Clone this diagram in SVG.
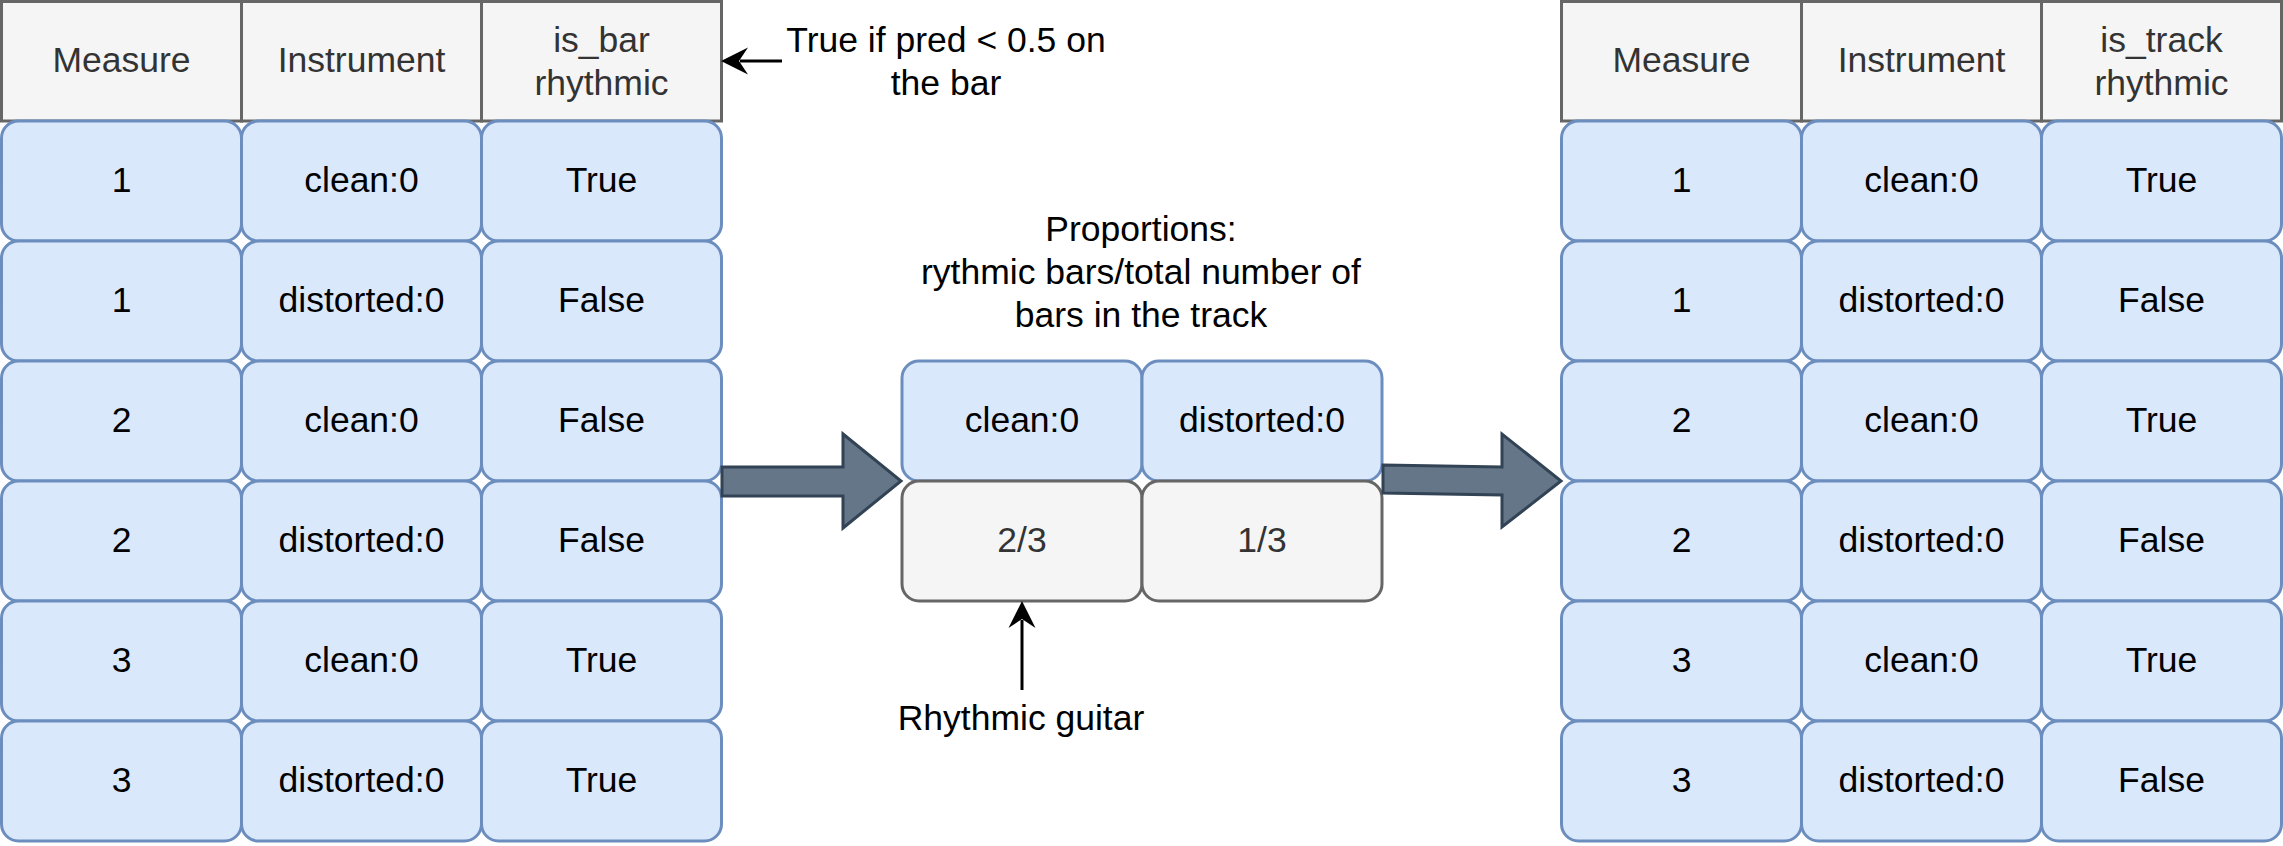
<svg xmlns="http://www.w3.org/2000/svg" width="2283" height="846" viewBox="0 0 2283 846">
<style>
text{font-family:"Liberation Sans",Arial,sans-serif;font-size:35.5px;text-anchor:middle}
.hd{fill:#f5f5f5;stroke:#666666;stroke-width:3}
.hdt{fill:#333333}
.cell{fill:#dae8fc;stroke:#6c8ebf;stroke-width:3}
.gcell{fill:#f5f5f5;stroke:#666666;stroke-width:3}
.t{fill:#000000}
.block{fill:#647687;stroke:#314354;stroke-width:3;stroke-linejoin:miter}
.ann{fill:none;stroke:#000000;stroke-width:3}
</style>
<defs>
<marker id="ah" markerUnits="userSpaceOnUse" viewBox="0 -15 28 30" markerWidth="28" markerHeight="30" refX="9" refY="0" orient="auto">
<path d="M27,-13.5 L0,0 L27,13.5 L18,0 Z" fill="#000000" transform="translate(28,0) scale(-1,1)"/>
</marker>
</defs>
<rect width="2283" height="846" fill="#ffffff"/>

<g id="left-table">
<g id="l-header">
<rect class="hd" x="1.5" y="1.5" width="240" height="119.5"/>
<rect class="hd" x="241.5" y="1.5" width="240" height="119.5"/>
<rect class="hd" x="481.5" y="1.5" width="240" height="119.5"/>
<text class="hdt" x="121.5" y="72">Measure</text>
<text class="hdt" x="361.5" y="72">Instrument</text>
<text class="hdt" x="601.5" y="52">is_bar</text>
<text class="hdt" x="601.5" y="95">rhythmic</text>
</g>
<g id="l-row1">
<rect class="cell" x="1.5" y="121" width="240" height="120" rx="17"/>
<rect class="cell" x="241.5" y="121" width="240" height="120" rx="17"/>
<rect class="cell" x="481.5" y="121" width="240" height="120" rx="17"/>
<text class="t" x="121.5" y="192">1</text><text class="t" x="361.5" y="192">clean:0</text><text class="t" x="601.5" y="192">True</text>
</g>
<g id="l-row2">
<rect class="cell" x="1.5" y="241" width="240" height="120" rx="17"/>
<rect class="cell" x="241.5" y="241" width="240" height="120" rx="17"/>
<rect class="cell" x="481.5" y="241" width="240" height="120" rx="17"/>
<text class="t" x="121.5" y="312">1</text><text class="t" x="361.5" y="312">distorted:0</text><text class="t" x="601.5" y="312">False</text>
</g>
<g id="l-row3">
<rect class="cell" x="1.5" y="361" width="240" height="120" rx="17"/>
<rect class="cell" x="241.5" y="361" width="240" height="120" rx="17"/>
<rect class="cell" x="481.5" y="361" width="240" height="120" rx="17"/>
<text class="t" x="121.5" y="432">2</text><text class="t" x="361.5" y="432">clean:0</text><text class="t" x="601.5" y="432">False</text>
</g>
<g id="l-row4">
<rect class="cell" x="1.5" y="481" width="240" height="120" rx="17"/>
<rect class="cell" x="241.5" y="481" width="240" height="120" rx="17"/>
<rect class="cell" x="481.5" y="481" width="240" height="120" rx="17"/>
<text class="t" x="121.5" y="552">2</text><text class="t" x="361.5" y="552">distorted:0</text><text class="t" x="601.5" y="552">False</text>
</g>
<g id="l-row5">
<rect class="cell" x="1.5" y="601" width="240" height="120" rx="17"/>
<rect class="cell" x="241.5" y="601" width="240" height="120" rx="17"/>
<rect class="cell" x="481.5" y="601" width="240" height="120" rx="17"/>
<text class="t" x="121.5" y="672">3</text><text class="t" x="361.5" y="672">clean:0</text><text class="t" x="601.5" y="672">True</text>
</g>
<g id="l-row6">
<rect class="cell" x="1.5" y="721" width="240" height="120" rx="17"/>
<rect class="cell" x="241.5" y="721" width="240" height="120" rx="17"/>
<rect class="cell" x="481.5" y="721" width="240" height="120" rx="17"/>
<text class="t" x="121.5" y="792">3</text><text class="t" x="361.5" y="792">distorted:0</text><text class="t" x="601.5" y="792">True</text>
</g>
</g>

<g id="note-pred">
<text class="t" x="946" y="52">True if pred &lt; 0.5 on</text>
<text class="t" x="946" y="95">the bar</text>
</g>

<g id="note-proportions">
<text class="t" x="1141" y="241">Proportions:</text>
<text class="t" x="1141" y="284">rythmic bars/total number of</text>
<text class="t" x="1141" y="327">bars in the track</text>
</g>

<g id="middle-table">
<g id="m-clean">
<rect class="cell" x="902" y="361" width="240" height="120" rx="17"/>
<text class="t" x="1022" y="432">clean:0</text>
</g>
<g id="m-distorted">
<rect class="cell" x="1142" y="361" width="240" height="120" rx="17"/>
<text class="t" x="1262" y="432">distorted:0</text>
</g>
<g id="m-clean-val">
<rect class="gcell" x="902" y="481" width="240" height="120" rx="17"/>
<text class="hdt" x="1022" y="552">2/3</text>
</g>
<g id="m-distorted-val">
<rect class="gcell" x="1142" y="481" width="240" height="120" rx="17"/>
<text class="hdt" x="1262" y="552">1/3</text>
</g>
</g>

<g id="note-rhythmic">
<text class="t" x="1021" y="730">Rhythmic guitar</text>
</g>

<g id="right-table">
<g id="r-header">
<rect class="hd" x="1561.5" y="1.5" width="240" height="119.5"/>
<rect class="hd" x="1801.5" y="1.5" width="240" height="119.5"/>
<rect class="hd" x="2041.5" y="1.5" width="240" height="119.5"/>
<text class="hdt" x="1681.5" y="72">Measure</text>
<text class="hdt" x="1921.5" y="72">Instrument</text>
<text class="hdt" x="2161.5" y="52">is_track</text>
<text class="hdt" x="2161.5" y="95">rhythmic</text>
</g>
<g id="r-row1">
<rect class="cell" x="1561.5" y="121" width="240" height="120" rx="17"/>
<rect class="cell" x="1801.5" y="121" width="240" height="120" rx="17"/>
<rect class="cell" x="2041.5" y="121" width="240" height="120" rx="17"/>
<text class="t" x="1681.5" y="192">1</text><text class="t" x="1921.5" y="192">clean:0</text><text class="t" x="2161.5" y="192">True</text>
</g>
<g id="r-row2">
<rect class="cell" x="1561.5" y="241" width="240" height="120" rx="17"/>
<rect class="cell" x="1801.5" y="241" width="240" height="120" rx="17"/>
<rect class="cell" x="2041.5" y="241" width="240" height="120" rx="17"/>
<text class="t" x="1681.5" y="312">1</text><text class="t" x="1921.5" y="312">distorted:0</text><text class="t" x="2161.5" y="312">False</text>
</g>
<g id="r-row3">
<rect class="cell" x="1561.5" y="361" width="240" height="120" rx="17"/>
<rect class="cell" x="1801.5" y="361" width="240" height="120" rx="17"/>
<rect class="cell" x="2041.5" y="361" width="240" height="120" rx="17"/>
<text class="t" x="1681.5" y="432">2</text><text class="t" x="1921.5" y="432">clean:0</text><text class="t" x="2161.5" y="432">True</text>
</g>
<g id="r-row4">
<rect class="cell" x="1561.5" y="481" width="240" height="120" rx="17"/>
<rect class="cell" x="1801.5" y="481" width="240" height="120" rx="17"/>
<rect class="cell" x="2041.5" y="481" width="240" height="120" rx="17"/>
<text class="t" x="1681.5" y="552">2</text><text class="t" x="1921.5" y="552">distorted:0</text><text class="t" x="2161.5" y="552">False</text>
</g>
<g id="r-row5">
<rect class="cell" x="1561.5" y="601" width="240" height="120" rx="17"/>
<rect class="cell" x="1801.5" y="601" width="240" height="120" rx="17"/>
<rect class="cell" x="2041.5" y="601" width="240" height="120" rx="17"/>
<text class="t" x="1681.5" y="672">3</text><text class="t" x="1921.5" y="672">clean:0</text><text class="t" x="2161.5" y="672">True</text>
</g>
<g id="r-row6">
<rect class="cell" x="1561.5" y="721" width="240" height="120" rx="17"/>
<rect class="cell" x="1801.5" y="721" width="240" height="120" rx="17"/>
<rect class="cell" x="2041.5" y="721" width="240" height="120" rx="17"/>
<text class="t" x="1681.5" y="792">3</text><text class="t" x="1921.5" y="792">distorted:0</text><text class="t" x="2161.5" y="792">False</text>
</g>
</g>

<g id="connectors">
<polygon class="block" points="722,467 843,467 843,434 901,481 843,528 843,496 722,496"/>
<polygon class="block" points="1383,465 1502,467 1502,434 1561,481 1502,527 1502,495 1383,493"/>
<line class="ann" x1="782" y1="61" x2="740" y2="61" marker-end="url(#ah)"/>
<line class="ann" x1="1022" y1="690" x2="1022" y2="620" marker-end="url(#ah)"/>
</g>
</svg>
